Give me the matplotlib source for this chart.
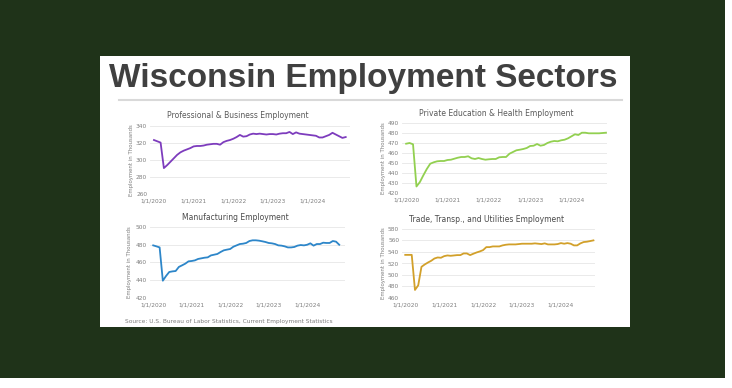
import matplotlib
matplotlib.use("Agg")
import matplotlib.pyplot as plt
from matplotlib.lines import Line2D
from matplotlib.patches import Rectangle

# ---------------- data (monthly, Jan 2020 - Nov 2024, thousands) ----------------
x_tick_labels = ["1/1/2020", "1/1/2021", "1/1/2022", "1/1/2023", "1/1/2024"]
x_tick_pos = [0, 12, 24, 36, 48]

prof_business = [323.5, 322, 320.5, 290.5, 294, 298, 302, 306, 309, 311, 312.5, 314,
                 316, 316.5, 316.5, 317, 318, 318.5, 319, 319, 318, 321, 322.5, 323.5,
                 325, 327, 329.5, 327.5, 328, 330, 331, 330.5, 331, 330.5, 330, 330.5,
                 330.5, 330, 331, 331.5, 331.5, 333, 330.5, 332.5, 331, 330.5, 330, 329.5,
                 329, 328.5, 326.5, 326.5, 328, 329.5, 332, 330, 328, 326, 327]

edu_health = [469.3, 470, 468.7, 426.5, 431, 437.7, 444, 449.3, 450.7, 451.7, 452, 452,
              453, 453.3, 454.3, 455.3, 456, 456, 456.7, 454.7, 454, 455, 454, 453.3,
              453.7, 454, 454, 455.7, 456, 456, 459.3, 461, 462.7, 463.3, 464, 465,
              467, 467.3, 469, 467.3, 468, 470, 471.3, 472, 471.7, 472.7, 473.3, 474.7,
              476.7, 478.7, 478, 480.3, 480.3, 479.7, 479.7, 479.7, 479.7, 480, 480.3]

manufacturing = [479.3, 478.2, 477, 439.5, 444.8, 449.3, 450, 450.4, 455, 456.8, 458.7, 461.3,
                 461.7, 462.4, 464, 464.7, 465.4, 465.8, 468, 468.8, 469.6, 471.8, 473.7, 474.5,
                 475.2, 477.8, 479.3, 480.8, 481.2, 482, 484.2, 485, 485, 484.6, 483.9, 483.1,
                 482, 481.6, 480.8, 479.3, 479, 478.2, 477, 477, 477.5, 479, 479.7, 479.3,
                 480, 481.6, 479, 480.8, 480.8, 482.3, 482, 482, 484.2, 483.5, 480]

trade_transp = [535, 535, 535, 474, 482, 514.2, 518.3, 521.7, 524.7, 528.7, 530.5, 530,
                532.8, 534, 533.4, 534, 534.6, 534.6, 537.5, 537.5, 534.6, 537, 539.2, 541,
                543.3, 548.5, 548.5, 549.7, 549.7, 549.7, 551.5, 552.6, 553.2, 553.2, 553.2, 553.8,
                554.4, 554.4, 554.4, 554.4, 555, 554.4, 553.8, 555, 553.2, 553.2, 553.2, 553.8,
                555.5, 554.4, 555.5, 554.4, 551.5, 551.5, 555, 557.3, 557.9, 559, 560.2]

W, H = 732, 388
fig = plt.figure(figsize=(W / 100, H / 100), dpi=100)
fig.patch.set_facecolor("white")

def fx(px):
    return px / W

def fy(py):
    return 1 - py / H

# dark green backdrop and white slide
fig.add_artist(Rectangle((0, fy(378)), fx(725), 378 / H, transform=fig.transFigure,
                         facecolor="#1f3319", edgecolor="none", zorder=0))
fig.add_artist(Rectangle((fx(100), fy(327)), fx(530), (327 - 56) / H, transform=fig.transFigure,
                         facecolor="white", edgecolor="none", zorder=1))

# main title, sized to span the same width as the reference
title = fig.text(fx(109), fy(87), "Wisconsin Employment Sectors", fontsize=22,
                 family="Liberation Sans", weight="bold", color="#404040",
                 ha="left", va="baseline", zorder=3)
renderer = fig.canvas.get_renderer()
tw = title.get_window_extent(renderer).width
title.set_fontsize(22 * 508 / tw)

fig.add_artist(Line2D([fx(119), fx(622)], [fy(99.5), fy(99.5)], transform=fig.transFigure,
                      color="#d9d9d9", lw=1.5, zorder=3))

panels = [
    dict(data=prof_business, title="Professional & Business Employment", color="#7d3cbd",
         box=(150, 350, 126, 194), ylim=(260, 340), yticks=[260, 280, 300, 320, 340],
         xlim=(-1.2, 59.3), tcx=238, tcy=116, ylx=131, tcol="#595959"),
    dict(data=edu_health, title="Private Education & Health Employment", color="#92d050",
         box=(402, 607, 123, 193), ylim=(420, 490), yticks=list(range(420, 491, 10)),
         xlim=(-1.2, 58.3), tcx=496, tcy=113, ylx=383, tcol="#595959"),
    dict(data=manufacturing, title="Manufacturing Employment", color="#2d86c9",
         box=(150, 345, 227, 298), ylim=(420, 500), yticks=[420, 440, 460, 480, 500],
         xlim=(-1.0, 59.8), tcx=235, tcy=218, ylx=130, tcol="#4a4a4a"),
    dict(data=trade_transp, title="Trade, Transp., and Utilities Employment", color="#d2a02a",
         box=(402, 595, 229, 298), ylim=(460, 580), yticks=list(range(460, 581, 20)),
         xlim=(-1.0, 58.5), tcx=487, tcy=220, ylx=383, tcol="#4a4a4a"),
]

for p in panels:
    x0, x1, y0, y1 = p["box"]
    ax = fig.add_axes([fx(x0), fy(y1), fx(x1 - x0), (y1 - y0) / H], zorder=4)
    ax.set_facecolor("none")
    vals = p["data"]
    ax.plot(range(len(vals)), vals, color=p["color"], lw=1.3, solid_joinstyle="round")
    ax.set_ylim(*p["ylim"])
    ax.set_xlim(*p["xlim"])
    ax.set_yticks(p["yticks"])
    ax.set_xticks(x_tick_pos)
    ax.set_xticklabels(x_tick_labels)
    ax.grid(axis="y", color="#e6e6e6", lw=0.6)
    ax.set_axisbelow(True)
    for s in ax.spines.values():
        s.set_visible(False)
    ax.tick_params(axis="both", length=0, labelsize=4.2, colors="#7f7f7f", pad=2)
    ax.tick_params(axis="x", pad=3)
    fig.text(fx(p["tcx"]), fy(p["tcy"]), p["title"], fontsize=5.5, color=p["tcol"],
             ha="center", va="center", zorder=5)
    fig.text(fx(p["ylx"]), fy((y0 + y1) / 2), "Employment in Thousands", fontsize=3.9,
             color="#7f7f7f", rotation=90, ha="center", va="center", zorder=5)

fig.text(fx(125), fy(322), "Source: U.S. Bureau of Labor Statistics, Current Employment Statistics",
         fontsize=4.25, color="#7f7f7f", ha="left", va="center", zorder=5)

fig.savefig("out.png", dpi=100, facecolor="white")
